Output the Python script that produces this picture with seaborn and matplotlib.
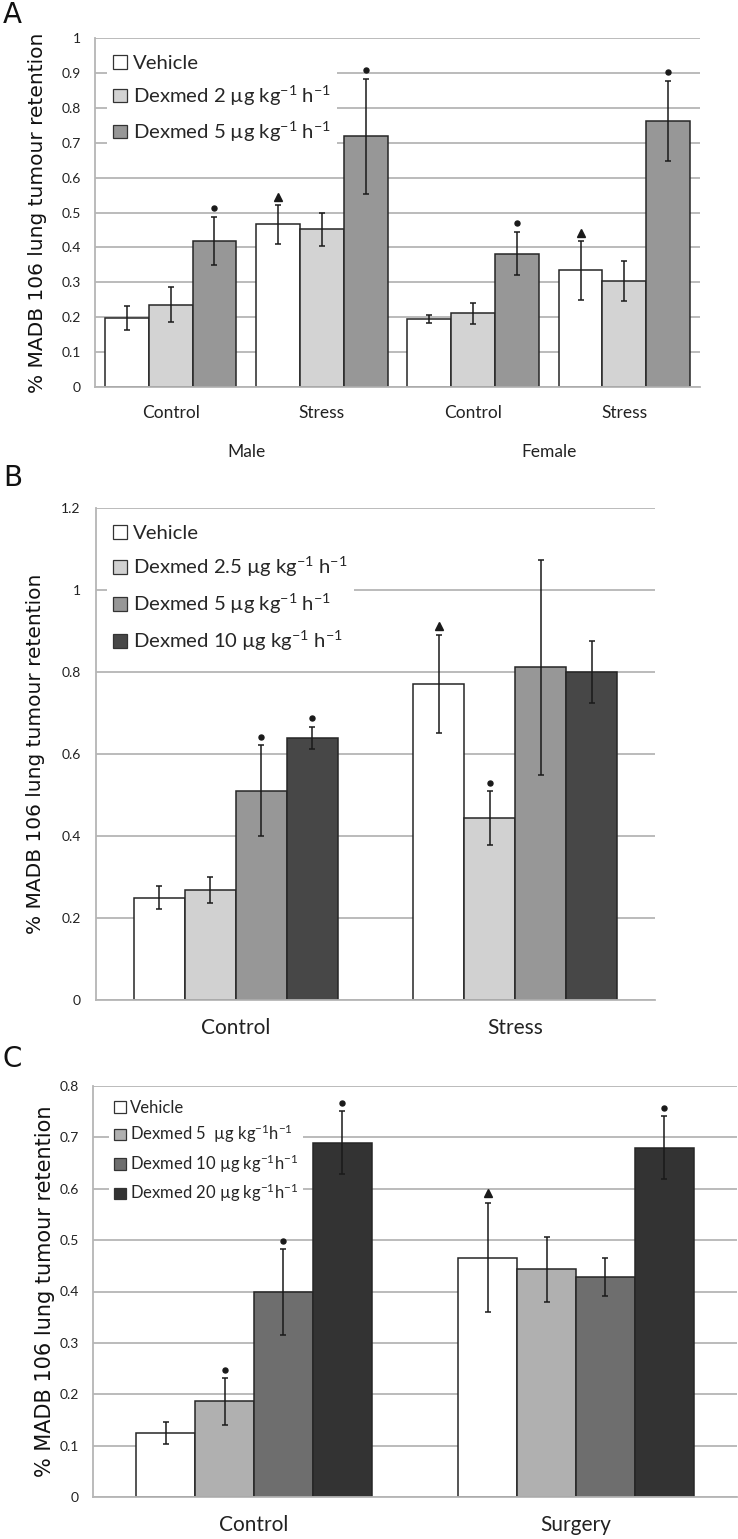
import numpy as np
import pandas as pd
import matplotlib
matplotlib.use("Agg")
import matplotlib.pyplot as plt
import matplotlib.transforms as mtransforms
from matplotlib.patches import Patch
import seaborn as sns

# ── Data ─────────────────────────────────────────────────────────────────────
SUP = r"$^{\mathrm{-1}}$"

# Panel A
A_GROUPS = ["Male Control", "Male Stress", "Female Control", "Female Stress"]
A_TICKS = ["Control", "Stress", "Control", "Stress"]
A_SEXES = ["Male", "Female"]
A_DOSES = ["Vehicle", f"Dexmed 2 µg kg{SUP} h{SUP}", f"Dexmed 5 µg kg{SUP} h{SUP}"]
A_VEH = [0.198, 0.466, 0.195, 0.334]
A_DEX2 = [0.236, 0.452, 0.211, 0.304]
A_DEX5 = [0.419, 0.718, 0.382, 0.762]
A_VEH_ERR = [0.034, 0.056, 0.0125, 0.084]
A_DEX2_ERR = [0.050, 0.047, 0.030, 0.058]
A_DEX5_ERR = [0.069, 0.164, 0.062, 0.115]
A_VEH_SIG = ["", "tri", "", "tri"]
A_DEX2_SIG = ["", "", "", ""]
A_DEX5_SIG = ["dot", "dot", "dot", "dot"]

# Panel B
B_GROUPS = ["Control", "Stress"]
B_DOSES = ["Vehicle", f"Dexmed 2.5 µg kg{SUP} h{SUP}", f"Dexmed 5 µg kg{SUP} h{SUP}",
           f"Dexmed 10 µg kg{SUP} h{SUP}"]
B_VEH = [0.250, 0.771]
B_DEX25 = [0.269, 0.443]
B_DEX5 = [0.510, 0.811]
B_DEX10 = [0.639, 0.800]
B_VEH_ERR = [0.029, 0.119]
B_DEX25_ERR = [0.032, 0.066]
B_DEX5_ERR = [0.111, 0.263]
B_DEX10_ERR = [0.028, 0.076]
B_VEH_SIG = ["", "tri"]
B_DEX25_SIG = ["", "dot"]
B_DEX5_SIG = ["dot", ""]
B_DEX10_SIG = ["dot", ""]

# Panel C
C_GROUPS = ["Control", "Surgery"]
C_DOSES = ["Vehicle", f"Dexmed 5  µg kg{SUP}h{SUP}", f"Dexmed 10 µg kg{SUP}h{SUP}",
           f"Dexmed 20 µg kg{SUP}h{SUP}"]
C_VEH = [0.125, 0.466]
C_DEX5 = [0.186, 0.443]
C_DEX10 = [0.399, 0.428]
C_DEX20 = [0.690, 0.680]
C_VEH_ERR = [0.021, 0.106]
C_DEX5_ERR = [0.045, 0.063]
C_DEX10_ERR = [0.083, 0.037]
C_DEX20_ERR = [0.061, 0.061]
C_VEH_SIG = ["", "tri"]
C_DEX5_SIG = ["dot", ""]
C_DEX10_SIG = ["dot", ""]
C_DEX20_SIG = ["dot", "dot"]

# ── Style ────────────────────────────────────────────────────────────────────
sns.set_theme(style="white")
plt.rcParams["font.family"] = ["Lato", "DejaVu Sans"]
plt.rcParams["mathtext.fontset"] = "custom"
plt.rcParams["mathtext.rm"] = "Lato"
plt.rcParams["mathtext.it"] = "Lato:italic"
plt.rcParams["mathtext.bf"] = "Lato:bold"
TXT = ["Lato", "DejaVu Sans"]
LBL = ["DejaVu Sans"]
GRID = "#b5b5b5"
EDGE = "#262626"

W, H = 738, 1539
fig = plt.figure(figsize=(W / 100, H / 100), dpi=100)


def px_axes(left, right, top, bottom):
    return fig.add_axes([left / W, 1 - bottom / H, (right - left) / W, (bottom - top) / H])


def draw_panel(ax, groups, doses, means, errs, sigs, colors, width, ymax, ystep,
               pad, tri_pad, label_size):
    df = pd.DataFrame({
        "group": [g for _ in doses for g in groups],
        "dose": [d for d in doses for _ in groups],
        "value": [v for m in means for v in m],
    })
    sns.barplot(data=df, x="group", y="value", hue="dose", order=groups,
                hue_order=doses, palette=colors, width=width, gap=0,
                saturation=1, edgecolor=EDGE, linewidth=1.1, errorbar=None,
                legend=False, ax=ax, zorder=2)
    bar_sets = list(ax.containers)
    for i, cont in enumerate(bar_sets):
        for j, bar in enumerate(cont):
            x = bar.get_x() + bar.get_width() / 2
            top = means[i][j] + errs[i][j]
            ax.errorbar(x, means[i][j], yerr=errs[i][j], color="#1a1a1a",
                        lw=1.1, capsize=2, capthick=1.1, zorder=3)
            if sigs[i][j] == "dot":
                ax.plot(x, top + pad, marker="o", ms=3.6, color="k", zorder=4)
            elif sigs[i][j] == "tri":
                ax.plot(x, top + tri_pad, marker="^", ms=6, color="k", zorder=4)

    ticks = np.round(np.arange(0, ymax + 1e-9, ystep), 2)
    ax.set_ylim(0, ymax)
    ax.set_yticks(ticks)
    ax.set_yticklabels([f"{t:g}" for t in ticks], fontsize=10, family=TXT,
                       color="#222222")
    ax.set_xlim(-0.5, len(groups) - 0.5)
    ax.yaxis.grid(True, color=GRID, lw=1.3)
    ax.set_axisbelow(True)
    for s in ["top", "right"]:
        ax.spines[s].set_visible(False)
    for s in ["left", "bottom"]:
        ax.spines[s].set_color(GRID)
        ax.spines[s].set_linewidth(1.3)
    ax.set_xlabel("")
    ax.set_ylabel("% MADB 106 lung tumour retention", family=LBL,
                  fontsize=label_size, color="#111111")

    handles = [Patch(facecolor=c, edgecolor="#333333", lw=0.9) for c in colors]
    return handles


# ── Panel A ──────────────────────────────────────────────────────────────────
axA = px_axes(95, 700, 38, 387)
hA = draw_panel(axA, A_GROUPS, A_DOSES,
                [A_VEH, A_DEX2, A_DEX5],
                [A_VEH_ERR, A_DEX2_ERR, A_DEX5_ERR],
                [A_VEH_SIG, A_DEX2_SIG, A_DEX5_SIG],
                ["#ffffff", "#d3d3d3", "#979797"], 0.87, 1.0, 0.1, 0.026, 0.022,
                14.5)
axA.set_xticks(range(len(A_GROUPS)))
axA.set_xticklabels(A_TICKS, fontsize=12.5, family=TXT, color="#222222")
axA.tick_params(axis="x", length=0, pad=13)
axA.tick_params(axis="y", length=5, color=GRID, width=1.3, pad=5)
axA.yaxis.set_label_coords(-0.08, 0.5)
trA = mtransforms.blended_transform_factory(axA.transData, axA.transAxes)
for k, sex in enumerate(A_SEXES):
    axA.text(2 * k + 0.5, -0.186, sex, transform=trA, ha="center", va="center",
             fontsize=12.5, family=TXT, color="#222222")
axA.legend(hA, A_DOSES, loc="upper left", bbox_to_anchor=(0.02, 0.969),
           frameon=True, framealpha=1, facecolor="white", edgecolor="none",
           fancybox=False, prop={"family": TXT, "size": 14.6}, handlelength=0.67,
           handleheight=0.67, handletextpad=0.3, labelspacing=0.58,
           borderpad=0.3, borderaxespad=0)

# ── Panel B ──────────────────────────────────────────────────────────────────
axB = px_axes(96, 655, 508, 1000)
hB = draw_panel(axB, B_GROUPS, B_DOSES,
                [B_VEH, B_DEX25, B_DEX5, B_DEX10],
                [B_VEH_ERR, B_DEX25_ERR, B_DEX5_ERR, B_DEX10_ERR],
                [B_VEH_SIG, B_DEX25_SIG, B_DEX5_SIG, B_DEX10_SIG],
                ["#ffffff", "#d1d1d1", "#979797", "#474747"], 0.73, 1.2, 0.2,
                0.021, 0.021, 14.5)
axB.set_xticks(range(len(B_GROUPS)))
axB.set_xticklabels(B_GROUPS, fontsize=15, family=TXT, color="#222222")
axB.tick_params(axis="x", length=0, pad=13)
axB.tick_params(axis="y", length=0, pad=11)
axB.yaxis.set_label_coords(-0.091, 0.5)
axB.legend(hB, B_DOSES, loc="upper left", bbox_to_anchor=(0.02, 0.978),
           frameon=True, framealpha=1, facecolor="white", edgecolor="none",
           fancybox=False, prop={"family": TXT, "size": 14.6}, handlelength=0.67,
           handleheight=0.67, handletextpad=0.3, labelspacing=0.64,
           borderpad=0.3, borderaxespad=0)

# ── Panel C ──────────────────────────────────────────────────────────────────
axC = px_axes(93, 737, 1086, 1497)
hC = draw_panel(axC, C_GROUPS, C_DOSES,
                [C_VEH, C_DEX5, C_DEX10, C_DEX20],
                [C_VEH_ERR, C_DEX5_ERR, C_DEX10_ERR, C_DEX20_ERR],
                [C_VEH_SIG, C_DEX5_SIG, C_DEX10_SIG, C_DEX20_SIG],
                ["#ffffff", "#b0b0b0", "#6e6e6e", "#333333"], 0.73, 0.8, 0.1,
                0.016, 0.019, 15)
axC.set_xticks(range(len(C_GROUPS)))
axC.set_xticklabels(C_GROUPS, fontsize=15, family=TXT, color="#222222")
axC.set_xticks(np.arange(-0.5, len(C_GROUPS)), minor=True)
axC.tick_params(axis="x", which="major", length=0, pad=13)
axC.tick_params(axis="x", which="minor", length=7, color=GRID, width=1.3)
axC.tick_params(axis="y", length=5, color=GRID, width=1.3, pad=5)
axC.yaxis.set_label_coords(-0.059, 0.5)
axC.legend(hC, C_DOSES, loc="upper left", bbox_to_anchor=(0.025, 0.978),
           frameon=True, framealpha=1, facecolor="white", edgecolor="none",
           fancybox=False, prop={"family": TXT, "size": 12}, handlelength=0.7,
           handleheight=0.7, handletextpad=0.25, labelspacing=0.42,
           borderpad=0.3, borderaxespad=0)

# ── Panel letters ────────────────────────────────────────────────────────────
for letter, ypix in [("A", 15), ("B", 478), ("C", 1059)]:
    fig.text(3 / W, 1 - ypix / H, letter, fontsize=20, family=LBL,
             ha="left", va="center", color="#111111")

fig.savefig("out.png", dpi=100)
